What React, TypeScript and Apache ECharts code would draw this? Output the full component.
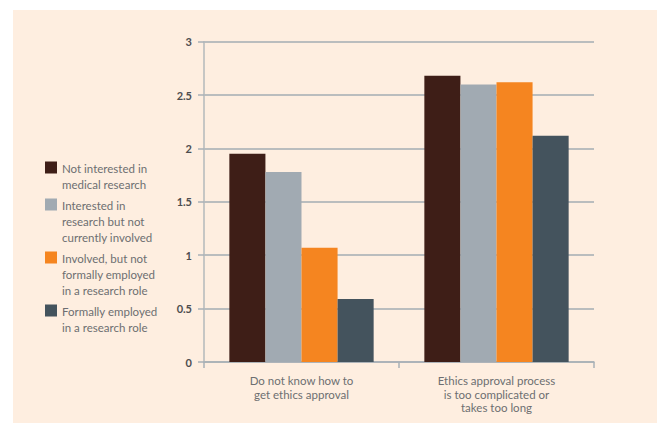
import React, { useEffect, useRef } from "react";
import * as echarts from "echarts";

const categories = [
  "Do not know how to\nget ethics approval",
  "Ethics approval process\nis too complicated or\ntakes too long",
];
const seriesNames = [
  "Not interested in medical research",
  "Interested in research but not currently involved",
  "Involved, but not formally employed in a research role",
  "Formally employed in a research role",
];
const legendLabels = [
  ["Not interested in", "medical research"],
  ["Interested in", "research but not", "currently involved"],
  ["Involved, but not", "formally employed", "in a research role"],
  ["Formally employed", "in a research role"],
];
const notInterested = [1.95, 2.68];
const interestedNotInvolved = [1.78, 2.6];
const involvedNotEmployed = [1.07, 2.62];
const formallyEmployed = [0.59, 2.12];
const seriesValues = [notInterested, interestedNotInvolved, involvedNotEmployed, formallyEmployed];
const colors = ["#3e1e17", "#a1aab2", "#f58520", "#44535d"];

const FONT = "Lato, 'Open Sans', sans-serif";

export default function App() {
  const ref = useRef<HTMLDivElement>(null);
  useEffect(() => {
    if (!ref.current) return;
    const chart = echarts.init(ref.current, undefined, { renderer: "svg" });

    const legendGraphics: any[] = [];
    let top = 160;
    legendLabels.forEach((lines, i) => {
      legendGraphics.push({
        type: "rect",
        shape: { x: 45, y: top + 1.5, width: 12, height: 12 },
        style: { fill: colors[i] },
        silent: true,
      });
      legendGraphics.push({
        type: "text",
        x: 62,
        y: top,
        style: {
          text: lines.join("\n"),
          fill: "#6d6e71",
          fontSize: 11.5,
          lineHeight: 16,
          fontFamily: FONT,
          verticalAlign: "top",
        },
        silent: true,
      });
      top += lines.length * 16 + 5;
    });

    chart.setOption({
      animation: false,
      backgroundColor: "transparent",
      grid: { left: 204, right: 70, top: 41.7, bottom: 61, containLabel: false },
      xAxis: {
        type: "category",
        data: categories,
        boundaryGap: true,
        axisLine: { show: true, lineStyle: { color: "#a9b1b7", width: 1.5 } },
        axisTick: { show: true, length: 6, alignWithLabel: false, lineStyle: { color: "#a9b1b7", width: 1.5 } },
        axisLabel: {
          color: "#6d6e71",
          fontSize: 11.5,
          fontFamily: FONT,
          lineHeight: 13.5,
          margin: 12,
          interval: 0,
        },
      },
      yAxis: {
        type: "value",
        min: 0,
        max: 3,
        interval: 0.5,
        axisLine: { show: true, lineStyle: { color: "#b3b8bb", width: 1.5 } },
        axisTick: { show: true, length: 6, lineStyle: { color: "#a9b1b7", width: 1.5 } },
        splitLine: { show: true, lineStyle: { color: "#a3acb3", width: 1.5 } },
        axisLabel: {
          color: "#4d4d4f",
          fontSize: 11,
          fontWeight: "bold",
          fontFamily: FONT,
          margin: 12,
        },
      },
      series: seriesNames.map((name, i) => ({
        name,
        type: "bar",
        data: seriesValues[i],
        barGap: "0%",
        barCategoryGap: "26%",
        itemStyle: { color: colors[i] },
      })),
      graphic: legendGraphics,
    });
    return () => chart.dispose();
  }, []);

  return (
    <div style={{ position: "fixed", left: 0, top: 0, width: 664, height: 423, background: "#ffffff" }}>
      <div style={{ position: "absolute", left: 13, top: 10, width: 644, height: 413, background: "#feeee0" }} />
      <div ref={ref} style={{ position: "absolute", left: 0, top: 0, width: 664, height: 423 }} />
    </div>
  );
}
